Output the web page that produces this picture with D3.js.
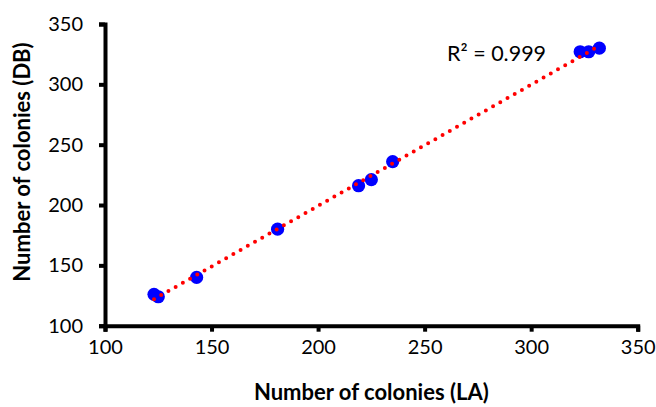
<!DOCTYPE html>
<html>
<head>
<meta charset="utf-8">
<script src="https://cdn.jsdelivr.net/npm/d3@7"></script>
<style>
  html, body { margin: 0; padding: 0; background: #fff; }
  svg { display: block; }
  text { font-family: Lato, "Open Sans", sans-serif; fill: #000; }
</style>
</head>
<body>
<svg id="chart" width="656" height="407"></svg>
<script>
// Data
const colonyLA = [123, 125, 143, 181, 219, 225, 235, 323, 327, 332];
const colonyDB = [126, 124, 140, 180, 216, 221, 236, 327, 327, 330];
const xTicks = [100, 150, 200, 250, 300, 350];
const yTicks = [100, 150, 200, 250, 300, 350];
const xTitle = "Number of colonies (LA)";
const yTitle = "Number of colonies (DB)";
const r2Label = "R\u00B2 = 0.999";

const svg = d3.select("#chart");
const mLeft = 105, mRight = 637.7, mTop = 24, mBottom = 325.7;

const x = d3.scaleLinear().domain([100, 350]).range([mLeft, mRight]);
const y = d3.scaleLinear().domain([100, 350]).range([mBottom, mTop]);

// Axes
const xAxis = svg.append("g")
  .attr("transform", `translate(0,${mBottom})`)
  .call(d3.axisBottom(x).tickValues(xTicks).tickSize(6).tickSizeOuter(6).tickPadding(8));
const yAxis = svg.append("g")
  .attr("transform", `translate(${mLeft},0)`)
  .call(d3.axisLeft(y).tickValues(yTicks).tickSize(6).tickSizeOuter(6).tickPadding(16));

[xAxis, yAxis].forEach(g => {
  g.select(".domain").attr("stroke", "#000").attr("stroke-width", 4);
  g.selectAll(".tick line").attr("stroke", "#000").attr("stroke-width", 4);
  g.selectAll(".tick text").style("font-size", "20px").attr("fill", "#000");
});

// Linear trendline (least squares from data)
const n = colonyLA.length;
const mx = d3.mean(colonyLA), my = d3.mean(colonyDB);
let sxy = 0, sxx = 0;
for (let i = 0; i < n; i++) {
  sxy += (colonyLA[i] - mx) * (colonyDB[i] - my);
  sxx += (colonyLA[i] - mx) ** 2;
}
const slope = sxy / sxx, intercept = my - slope * mx;
const x0 = d3.min(colonyLA), x1 = d3.max(colonyLA);

// Points
svg.append("g").selectAll("circle")
  .data(colonyLA.map((v, i) => [v, colonyDB[i]]))
  .join("circle")
  .attr("cx", d => x(d[0]))
  .attr("cy", d => y(d[1]))
  .attr("r", 6.6)
  .attr("fill", "#0000FF");

svg.append("line")
  .attr("x1", x(x0)).attr("y1", y(slope * x0 + intercept))
  .attr("x2", x(x1)).attr("y2", y(slope * x1 + intercept))
  .attr("stroke", "#FF0000")
  .attr("stroke-width", 4)
  .attr("stroke-linecap", "round")
  .attr("stroke-dasharray", "0 8.3");

// R² label
svg.append("text")
  .attr("x", 447).attr("y", 61)
  .style("font-size", "21.5px")
  .text(r2Label);

// Axis titles
svg.append("text")
  .attr("x", (mLeft + mRight) / 2).attr("y", 400)
  .attr("text-anchor", "middle")
  .style("font-size", "22px").style("font-weight", "bold")
  .text(xTitle);

svg.append("text")
  .attr("transform", `translate(30,162) rotate(-90)`)
  .attr("text-anchor", "middle")
  .style("font-size", "22px").style("font-weight", "bold")
  .text(yTitle);
</script>
</body>
</html>
